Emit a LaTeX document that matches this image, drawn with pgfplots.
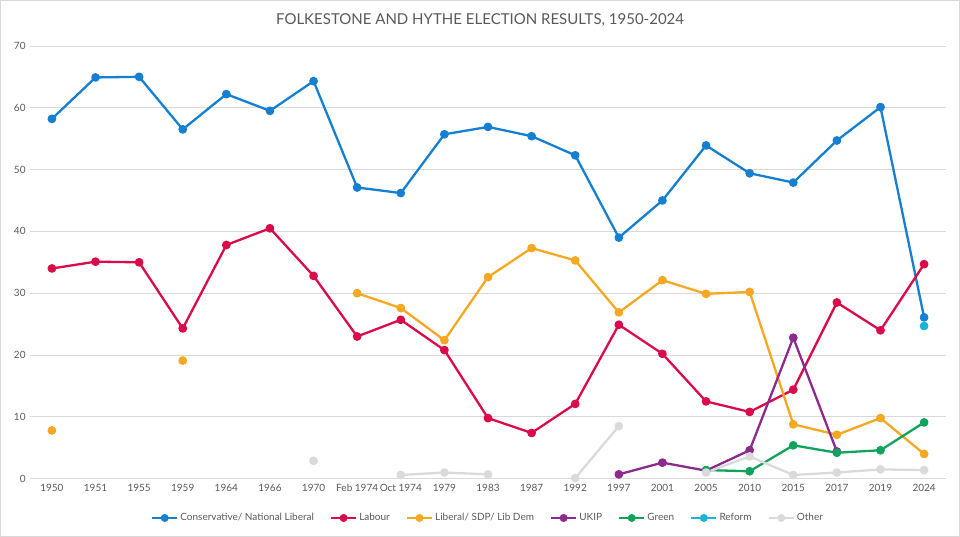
\documentclass[border=0pt]{standalone}
\usepackage{pgfplots}
\pgfplotsset{compat=1.18}
\usepackage{fontspec}
\setmainfont{Lato}
\definecolor{txt}{RGB}{89,89,89}
\definecolor{gridc}{RGB}{217,217,217}
\definecolor{con}{RGB}{21,127,210}
\definecolor{lab}{RGB}{219,10,74}
\definecolor{lib}{RGB}{246,168,34}
\definecolor{ukip}{RGB}{140,42,142}
\definecolor{grn}{RGB}{16,163,94}
\definecolor{ref}{RGB}{30,180,214}
\definecolor{oth}{RGB}{218,218,218}
\begin{document}
\begin{tikzpicture}[x=1pt,y=1pt]
\draw[gridc,line width=0.8pt] (0.5,0.5) rectangle (959.5,536.5);
\node[font=\fontsize{15}{17}\selectfont,text=txt] at (480,517) {FOLKESTONE AND HYTHE ELECTION RESULTS, 1950-2024};
\begin{axis}[
  at={(30.2pt,58.3pt)}, anchor=south west,
  scale only axis, width=915.6pt, height=432.7pt,
  xmin=-0.5, xmax=20.5, ymin=0, ymax=70,
  xtick={0,...,20},
  xticklabels={1950,1951,1955,1959,1964,1966,1970,Feb 1974,Oct 1974,1979,1983,1987,1992,1997,2001,2005,2010,2015,2017,2019,2024},
  ytick={0,10,...,70},
  ymajorgrids, grid style={gridc,line width=0.8pt},
  axis line style={draw=none}, major tick style={draw=none},
  tick label style={font=\fontsize{10}{12}\selectfont,text=txt},
  /pgf/number format/assume math mode=true,
  xticklabel style={yshift=-2pt},
  yticklabel style={xshift=-1pt},
  unbounded coords=jump,
  every axis plot/.append style={line width=2.3pt, mark=*, mark size=3.2pt, line join=round},
  legend columns=-1,
  legend style={at={(0.5,-0.0908)}, anchor=center, draw=none, fill=none,
    font=\fontsize{10}{12}\selectfont, text=txt,
    /tikz/every even column/.append style={column sep=14pt}},
  legend image code/.code={\draw[#1,mark repeat=2,mark phase=2,mark size=2.8pt] plot coordinates {(0pt,0pt) (12.5pt,0pt) (25pt,0pt)};},
]
\addplot[con] coordinates {(0,58.2) (1,64.9) (2,65.0) (3,56.5) (4,62.2) (5,59.5) (6,64.3) (7,47.1) (8,46.2) (9,55.7) (10,56.9) (11,55.4) (12,52.3) (13,39.0) (14,45.0) (15,53.9) (16,49.4) (17,47.9) (18,54.7) (19,60.1) (20,26.1)};
\addlegendentry{Conservative/ National Liberal}
\addplot[lab] coordinates {(0,34.0) (1,35.1) (2,35.0) (3,24.3) (4,37.8) (5,40.5) (6,32.8) (7,23.0) (8,25.7) (9,20.8) (10,9.8) (11,7.4) (12,12.1) (13,24.9) (14,20.2) (15,12.5) (16,10.8) (17,14.4) (18,28.5) (19,24.0) (20,34.7)};
\addlegendentry{Labour}
\addplot[lib] coordinates {(0,7.8) (1,nan) (2,nan) (3,19.1) (4,nan) (5,nan) (6,nan) (7,30.0) (8,27.6) (9,22.4) (10,32.6) (11,37.3) (12,35.3) (13,26.9) (14,32.1) (15,29.9) (16,30.2) (17,8.8) (18,7.1) (19,9.8) (20,4.0)};
\addlegendentry{Liberal/ SDP/ Lib  Dem}
\addplot[ukip] coordinates {(13,0.7) (14,2.6) (15,1.3) (16,4.6) (17,22.8) (18,4.4)};
\addlegendentry{UKIP}
\addplot[grn] coordinates {(15,1.4) (16,1.2) (17,5.4) (18,4.2) (19,4.6) (20,9.1)};
\addlegendentry{Green}
\addplot[ref] coordinates {(20,24.7)};
\addlegendentry{Reform}
\addplot[oth] coordinates {(6,2.9) (7,nan) (8,0.6) (9,1.0) (10,0.7) (11,nan) (12,0.1) (13,8.5) (14,nan) (15,1.0) (16,3.6) (17,0.6) (18,1.0) (19,1.5) (20,1.4)};
\addlegendentry{Other}
\end{axis}
\end{tikzpicture}
\end{document}
